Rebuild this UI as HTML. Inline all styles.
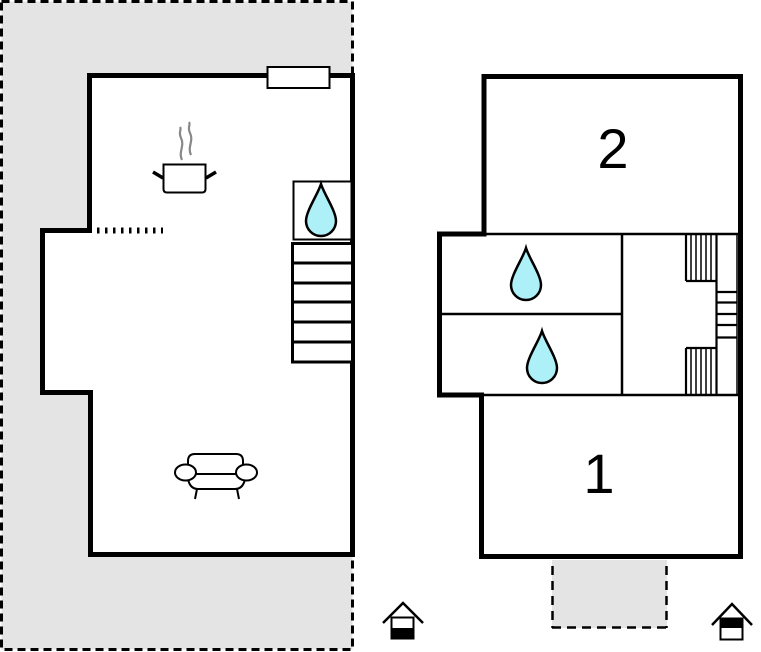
<!DOCTYPE html>
<html><head><meta charset="utf-8"><style>
html,body{margin:0;padding:0;background:#fff;}
svg{display:block;}
text{font-family:"Liberation Sans",Arial,sans-serif;}
</style></head><body>
<svg width="761" height="652" viewBox="0 0 761 652" xmlns="http://www.w3.org/2000/svg">
<rect width="761" height="652" fill="#fff"/>
<!-- left plan gray outdoor area -->
<rect x="1.5" y="1.5" width="351" height="648" fill="#e4e4e4" stroke="#000" stroke-width="3" stroke-dasharray="8 5"/>
<polygon points="89.5,75.5 352.5,75.5 352.5,554.5 90.5,554.5 90.5,392.5 42.5,392.5 42.5,230.5 89.5,230.5" fill="#fff" stroke="#000" stroke-width="5"/>
<!-- window -->
<rect x="267.5" y="67" width="62" height="21" fill="#fff" stroke="#000" stroke-width="2"/>
<!-- dashed ticks -->
<line x1="97" y1="230.5" x2="163" y2="230.5" stroke="#000" stroke-width="6" stroke-dasharray="2.5 5.5"/>
<!-- drop box -->
<rect x="293.5" y="181.5" width="58" height="58" fill="#fff" stroke="#000" stroke-width="2"/>
<path d="M321,184 C324,194 336,211 336,221 A15,15 0 0 1 306,221 C306,211 318,194 321,184 Z" fill="#adf0f7" stroke="#000" stroke-width="2.5"/>
<!-- stairs -->
<rect x="292.5" y="243.5" width="60" height="118.5" fill="#fff" stroke="#000" stroke-width="3"/>
<g stroke="#000" stroke-width="3">
<line x1="292" y1="263" x2="353" y2="263"/>
<line x1="292" y1="283" x2="353" y2="283"/>
<line x1="292" y1="302" x2="353" y2="302"/>
<line x1="292" y1="322" x2="353" y2="322"/>
<line x1="292" y1="342" x2="353" y2="342"/>
</g>
<!-- pot -->
<path d="M182,160 C178,152 185,146 181,138 C178,132 182,130 180,127" fill="none" stroke="#888" stroke-width="2.2"/>
<path d="M191,155 C187,147 194,141 190,133 C187,127 191,125 189,122" fill="none" stroke="#888" stroke-width="2.2"/>
<path d="M163.5,164.5 H205.5 V189 Q205.5,192.5 202,192.5 H167 Q163.5,192.5 163.5,189 Z" fill="#fff" stroke="#000" stroke-width="2"/>
<line x1="153" y1="172" x2="163" y2="178" stroke="#000" stroke-width="3.5"/>
<line x1="206" y1="178" x2="216" y2="172" stroke="#000" stroke-width="3.5"/>
<!-- armchair -->
<g fill="#fff" stroke="#000" stroke-width="2">
<path d="M188,474 V461 Q188,454 195,454 H236 Q243,454 243,461 V474"/>
<path d="M188,479 Q190,489 198,489 H235 Q243,489 245,479"/>
<line x1="196" y1="474" x2="236" y2="474"/>
<ellipse cx="185.5" cy="472.5" rx="10.5" ry="8"/>
<ellipse cx="246.5" cy="472.5" rx="10.5" ry="8"/>
<line x1="197" y1="489" x2="195" y2="499"/>
<line x1="237" y1="489" x2="239" y2="499"/>
</g>
<!-- left house icon -->
<rect x="391.5" y="617.5" width="22" height="21" fill="#fff" stroke="#000" stroke-width="2"/>
<rect x="391" y="628" width="23" height="11" fill="#000"/>
<polyline points="383,623 403,603 423,623" fill="none" stroke="#000" stroke-width="2.5"/>

<!-- right plan -->
<rect x="552" y="560" width="115" height="68" fill="#e4e4e4"/>
<g stroke="#000" stroke-width="2.5" stroke-dasharray="9 6" fill="none">
<line x1="552.5" y1="566" x2="552.5" y2="628"/>
<line x1="666.5" y1="566" x2="666.5" y2="628"/>
<line x1="552" y1="627.5" x2="667" y2="627.5"/>
</g>
<polygon points="484,76.5 740.5,76.5 740.5,556.5 481.5,556.5 481.5,395 439.5,395 439.5,234 484,234" fill="#fff" stroke="#000" stroke-width="5"/>
<g stroke="#000" stroke-width="2.5">
<line x1="484" y1="234" x2="740" y2="234"/>
<line x1="439" y1="395" x2="740" y2="395"/>
<line x1="622" y1="234" x2="622" y2="395"/>
<line x1="439" y1="314" x2="622" y2="314"/>
</g>
<!-- right stairs -->
<g stroke="#000" stroke-width="1.5">
<line x1="691" y1="234" x2="691" y2="281"/>
<line x1="696" y1="234" x2="696" y2="281"/>
<line x1="701" y1="234" x2="701" y2="281"/>
<line x1="706" y1="234" x2="706" y2="281"/>
<line x1="711" y1="234" x2="711" y2="281"/>
<line x1="691" y1="348" x2="691" y2="395"/>
<line x1="696" y1="348" x2="696" y2="395"/>
<line x1="701" y1="348" x2="701" y2="395"/>
<line x1="706" y1="348" x2="706" y2="395"/>
<line x1="711" y1="348" x2="711" y2="395"/>
<line x1="737" y1="234" x2="737" y2="395"/>
</g>
<g stroke="#000" stroke-width="2.2">
<line x1="686" y1="234" x2="686" y2="281"/>
<line x1="686" y1="281" x2="717" y2="281"/>
<line x1="716.5" y1="234" x2="716.5" y2="395"/>
<line x1="686" y1="348" x2="717" y2="348"/>
<line x1="686" y1="348" x2="686" y2="395"/>
<line x1="717" y1="292" x2="737" y2="292"/>
<line x1="717" y1="302.5" x2="737" y2="302.5"/>
<line x1="717" y1="314" x2="737" y2="314"/>
<line x1="717" y1="325" x2="737" y2="325"/>
<line x1="717" y1="337.5" x2="737" y2="337.5"/>
</g>
<!-- drops -->
<path d="M526,248 C529,258 541,275 541,285 A15,15 0 0 1 511,285 C511,275 523,258 526,248 Z" fill="#adf0f7" stroke="#000" stroke-width="2.5"/>
<path d="M542,331 C545,341 557,358 557,368 A15,15 0 0 1 527,368 C527,358 539,341 542,331 Z" fill="#adf0f7" stroke="#000" stroke-width="2.5"/>
<!-- numbers -->
<text x="613" y="168" font-size="56" text-anchor="middle" fill="#000">2</text>
<text x="599" y="493" font-size="56" text-anchor="middle" fill="#000">1</text>
<!-- right house icon -->
<rect x="720.5" y="618.5" width="22" height="21" fill="#fff" stroke="#000" stroke-width="2"/>
<rect x="720" y="618" width="23" height="10" fill="#000"/>
<polyline points="712,625 732,604 752,625" fill="none" stroke="#000" stroke-width="2.5"/>
</svg>
</body></html>
